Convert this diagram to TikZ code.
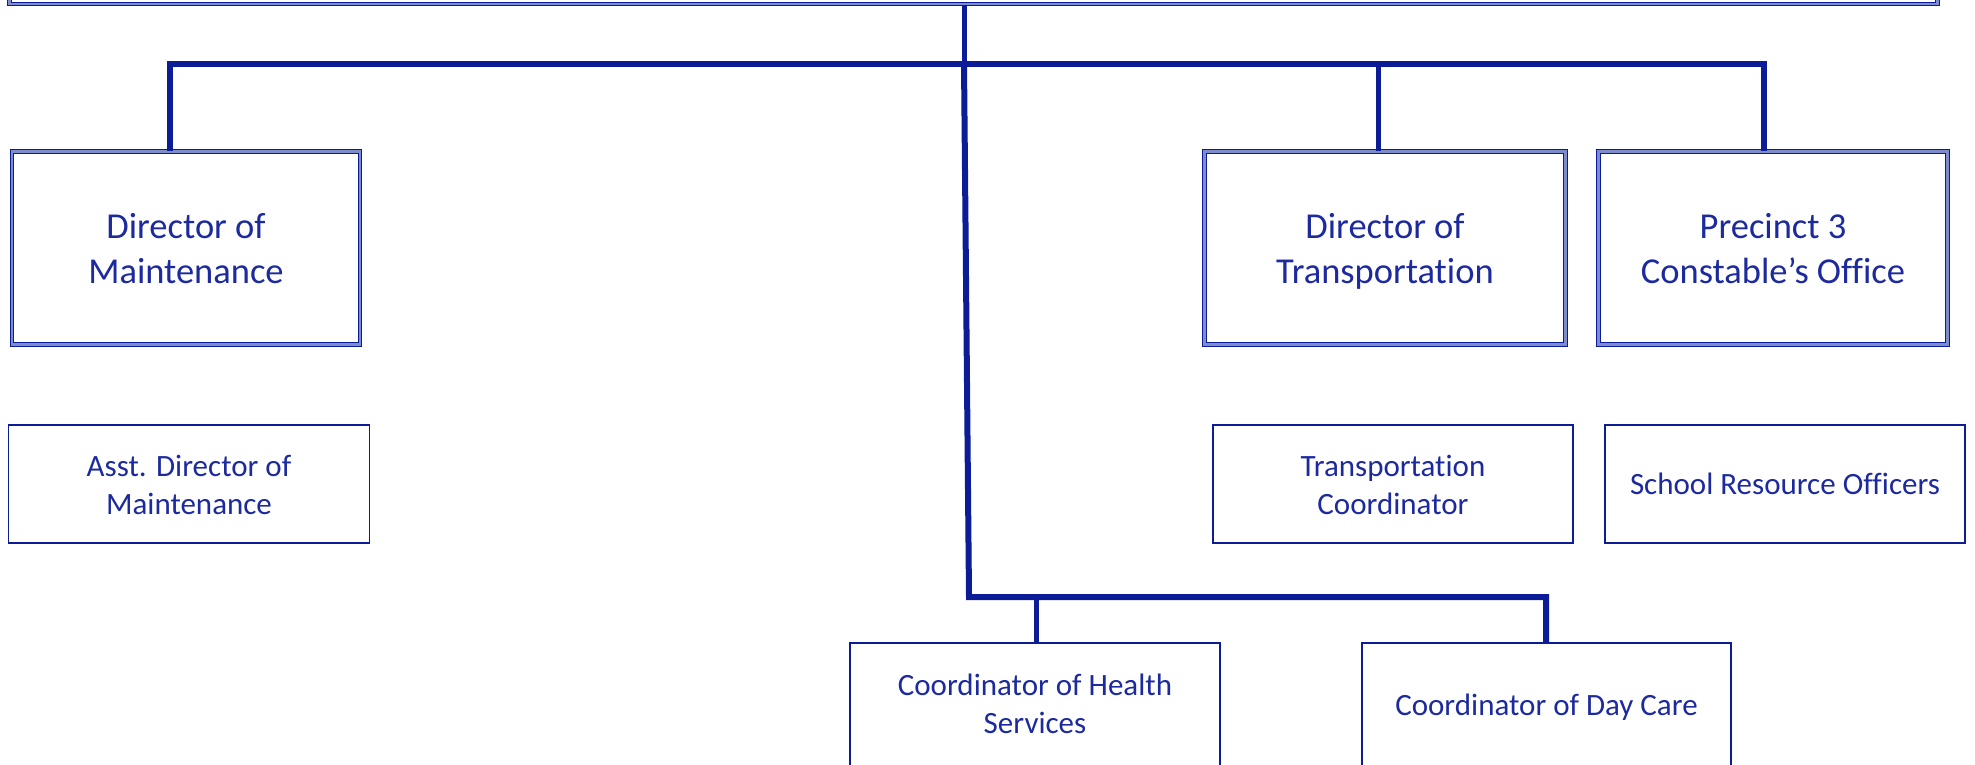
\documentclass[tikz,border=0pt]{standalone}
\usepackage{fontspec}
\setmainfont{Carlito}[Ligatures={NoCommon}]
\definecolor{ln}{RGB}{12,28,150}
\definecolor{tx}{RGB}{28,42,158}
\definecolor{dbl}{RGB}{125,140,205}
\newcommand{\toprl}[1]{\rule{0pt}{#1}}
\newcommand{\botrl}[1]{\rule[-#1]{0pt}{#1}}
\begin{document}
\begin{tikzpicture}[x=1pt,y=-1pt,
  bigbox/.style={draw=ln, double=dbl, line width=1.2pt, double distance=2.4pt,
    text=tx, align=center, inner sep=0pt, minimum height=193pt,
    font=\fontsize{36.5}{45}\selectfont},
  smallbox/.style={draw=ln, line width=1.8pt, text=tx, align=center, inner sep=0pt,
    minimum height=118pt, font=\fontsize{31}{38}\selectfont},
  conn/.style={draw=ln, line width=5pt},
  barline/.style={draw=ln, line width=6pt, line join=miter}]
\useasboundingbox (0,0) rectangle (1975,764);
\clip (0,0) rectangle (1975,764);

% top box (only its bottom edge shows)
\node[bigbox, minimum width=1928pt, minimum height=104pt] (top) at (973.5,-48) {};

% directors
\node[bigbox, minimum width=348pt] (dm) at (186,248) {\toprl{35pt}Director of\\Maintenance\botrl{10pt}};
\node[bigbox, minimum width=361pt] (dt) at (1385,248) {\toprl{35pt}Director of\\Transportation\botrl{10pt}};
\node[bigbox, minimum width=349pt] (pc) at (1773,248) {\toprl{35pt}Precinct 3\\Constable’s Office\botrl{10pt}};

% small boxes
\node[smallbox, minimum width=361pt] (ad) at (189,484) {\toprl{30pt}Asst. Director of\\Maintenance\botrl{8pt}};
\node[smallbox, minimum width=360pt] (tc) at (1393,484) {\toprl{30pt}Transportation\\Coordinator\botrl{8pt}};
\node[smallbox, minimum width=360pt] (sr) at (1785,484) {\toprl{31pt}School Resource Officers\botrl{10pt}};
\node[smallbox, minimum width=370pt, minimum height=124pt] (hs) at (1035,705) {\toprl{28pt}Coordinator of Health\\Services\botrl{10pt}};
\node[smallbox, minimum width=369pt, minimum height=124pt] (dc) at (1546.5,705) {\toprl{30pt}Coordinator of Day Care\botrl{10pt}};

% junction points
\coordinate (j1) at (964,64);
\coordinate (b1) at (170,64);
\coordinate (b2) at (1378,64);
\coordinate (b3) at (1764,64);
\coordinate (j2) at (969,597);
\coordinate (c1) at (1036,597);
\coordinate (c2) at (1546,597);

% connectors
\draw[conn] (top.south -| j1) -- (j1);
\draw[barline] (b1 |- dm.north) -- (b1) -- (b3) -- (b3 |- pc.north);
\draw[conn] (b2) -- (b2 |- dt.north);
\draw[barline] (j1) -- (j2) -- (c2) -- (c2 |- dc.north);
\draw[conn] (c1) -- (c1 |- hs.north);
\end{tikzpicture}
\end{document}
